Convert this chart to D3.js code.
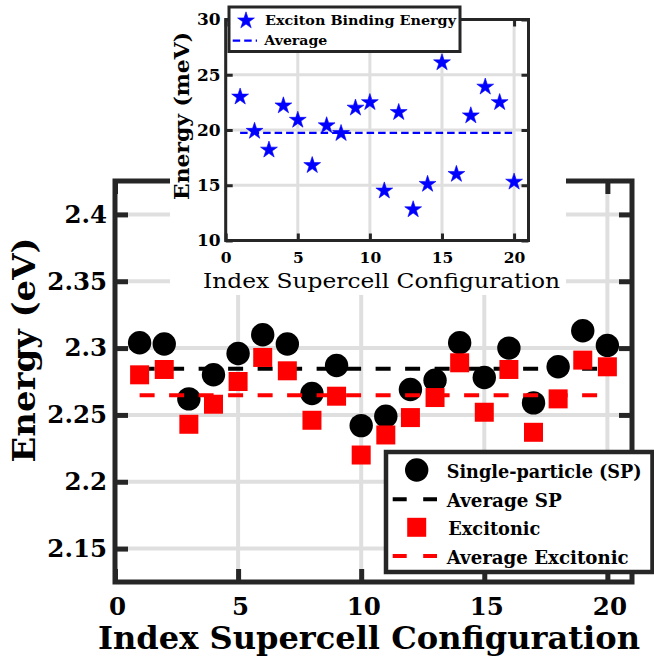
<!DOCTYPE html>
<html>
<head>
<meta charset="utf-8">
<script src="https://cdn.jsdelivr.net/npm/d3@7"></script>
<style>
  body { margin: 0; background: #fff; }
  svg { display: block; }
</style>
</head>
<body>
<script>
// Supercell configuration indices
const configIndex = [1, 2, 3, 4, 5, 6, 7, 8, 9, 10, 11, 12, 13, 14, 15, 16, 17, 18, 19, 20];

// Single-particle gap energies (eV)
const spEnergy = [2.304, 2.303, 2.262, 2.280, 2.296, 2.310, 2.303, 2.266, 2.287, 2.242,
                  2.249, 2.269, 2.276, 2.304, 2.278, 2.300, 2.259, 2.286, 2.313, 2.302];

// Excitonic gap energies (eV)
const excEnergy = [2.280, 2.284, 2.243, 2.258, 2.275, 2.293, 2.283, 2.246, 2.264, 2.220,
                   2.235, 2.248, 2.263, 2.289, 2.252, 2.284, 2.237, 2.262, 2.291, 2.286];

// Exciton binding energies (meV)
const bindingEnergy = [23.0, 19.9, 18.2, 22.2, 20.9, 16.8, 20.4, 19.7, 22.0, 22.5,
                       14.5, 21.6, 12.8, 15.1, 26.1, 16.0, 21.3, 23.9, 22.5, 15.3];

// Tick values
const mainXTicks = [0, 5, 10, 15, 20];
const mainYTicks = [2.15, 2.2, 2.25, 2.3, 2.35, 2.4];
const insetXTicks = [0, 5, 10, 15, 20];
const insetYTicks = [10, 15, 20, 25, 30];

// Legend labels
const mainLegendLabels = ["Single-particle (SP)", "Average SP", "Excitonic", "Average Excitonic"];
const insetLegendLabels = ["Exciton Binding Energy", "Average"];

const AXIS = "#262626";
const GRID = "#dfdfdf";
const SERIF = "'DejaVu Serif', 'Liberation Serif', serif";

const svg = d3.select("body").append("svg").attr("width", 654).attr("height", 656);

// ---------- main axes ----------
const x = d3.scaleLinear().domain([0, 21]).range([115, 632]);
const y = d3.scaleLinear().domain([2.125, 2.425]).range([582, 181]);

const main = svg.append("g");

// grid
main.append("g").selectAll("line").data(mainXTicks).join("line")
  .attr("x1", d => x(d)).attr("x2", d => x(d))
  .attr("y1", y.range()[0]).attr("y2", y.range()[1])
  .attr("stroke", GRID).attr("stroke-width", 4);
main.append("g").selectAll("line").data(mainYTicks).join("line")
  .attr("x1", x.range()[0]).attr("x2", x.range()[1])
  .attr("y1", d => y(d)).attr("y2", d => y(d))
  .attr("stroke", GRID).attr("stroke-width", 4);

const circleSym = d3.symbol(d3.symbolCircle, 430);
const squareSym = d3.symbol(d3.symbolSquare, 361);
const avgLine = d3.line().x(d => x(d[0])).y(d => y(d[1]));

const spMean = d3.mean(spEnergy);
const excMean = d3.mean(excEnergy);
const firstIdx = configIndex[0], lastIdx = configIndex[configIndex.length - 1];

// single-particle points
main.append("g").selectAll("path").data(configIndex).join("path")
  .attr("d", circleSym)
  .attr("transform", (d, i) => `translate(${x(d)},${y(spEnergy[i])})`)
  .attr("fill", "#000");

// average SP
main.append("path")
  .attr("d", avgLine([[firstIdx, spMean], [lastIdx, spMean]]))
  .attr("stroke", "#000").attr("stroke-width", 4).attr("fill", "none")
  .attr("stroke-dasharray", "15,14.5");

// excitonic points
main.append("g").selectAll("path").data(configIndex).join("path")
  .attr("d", squareSym)
  .attr("transform", (d, i) => `translate(${x(d)},${y(excEnergy[i])})`)
  .attr("fill", "#ff0000");

// average excitonic
main.append("path")
  .attr("d", avgLine([[firstIdx, excMean], [lastIdx, excMean]]))
  .attr("stroke", "#ff0000").attr("stroke-width", 4).attr("fill", "none")
  .attr("stroke-dasharray", "15,14.5");

// axes with inward ticks
function styleAxis(g, width) {
  g.select(".domain").remove();
  g.selectAll(".tick line").attr("stroke", AXIS).attr("stroke-width", width);
}
const tickFont = (sel, size) => sel
  .attr("font-family", SERIF).attr("font-weight", "bold")
  .attr("font-size", size).attr("fill", "#000");

const gL = main.append("g").attr("transform", `translate(${x(0)},0)`)
  .call(d3.axisLeft(y).tickValues(mainYTicks).tickSizeInner(-13).tickSizeOuter(0)
    .tickPadding(8).tickFormat(d => String(d)));
styleAxis(gL, 5);
gL.selectAll(".tick text").call(tickFont, 24.5);

const gR = main.append("g").attr("transform", `translate(${x(21)},0)`)
  .call(d3.axisRight(y).tickValues(mainYTicks).tickSizeInner(-13).tickSizeOuter(0).tickFormat(""));
styleAxis(gR, 5);

const gB = main.append("g").attr("transform", `translate(0,${y(2.125)})`)
  .call(d3.axisBottom(x).tickValues(mainXTicks).tickSizeInner(-13).tickSizeOuter(0)
    .tickFormat(d => String(d)));
styleAxis(gB, 5);
gB.selectAll(".tick text").call(tickFont, 24.5)
  .attr("y", 33).attr("dy", null).attr("dx", 2);

const gT = main.append("g").attr("transform", `translate(0,${y(2.425)})`)
  .call(d3.axisTop(x).tickValues(mainXTicks).tickSizeInner(-13).tickSizeOuter(0).tickFormat(""));
styleAxis(gT, 5);

main.append("rect")
  .attr("x", x(0)).attr("y", y(2.425))
  .attr("width", x(21) - x(0)).attr("height", y(2.125) - y(2.425))
  .attr("fill", "none").attr("stroke", AXIS).attr("stroke-width", 5);

// axis titles
main.append("text")
  .attr("x", 369).attr("y", 649).attr("text-anchor", "middle")
  .attr("font-family", SERIF).attr("font-weight", "bold").attr("font-size", 31)
  .attr("textLength", 542).attr("lengthAdjust", "spacingAndGlyphs")
  .text("Index Supercell Configuration");
main.append("text")
  .attr("transform", "translate(35,350) rotate(-90)").attr("text-anchor", "middle")
  .attr("font-family", SERIF).attr("font-weight", "bold").attr("font-size", 31)
  .attr("textLength", 225).attr("lengthAdjust", "spacingAndGlyphs")
  .text("Energy (eV)");

// main legend
const leg = svg.append("g");
leg.append("rect").attr("x", 386).attr("y", 452).attr("width", 266.5).attr("height", 120)
  .attr("fill", "#fff").attr("stroke", AXIS).attr("stroke-width", 4.5);
const legText = (tx, ty, label, len) => leg.append("text")
  .attr("x", tx).attr("y", ty)
  .attr("font-family", SERIF).attr("font-weight", "bold").attr("font-size", 18)
  .attr("textLength", len).attr("lengthAdjust", "spacingAndGlyphs").text(label);
leg.append("path").attr("d", circleSym).attr("transform", "translate(416.7,470)").attr("fill", "#000");
legText(446.7, 478.3, mainLegendLabels[0], 195);
leg.append("line").attr("x1", 392.7).attr("x2", 437).attr("y1", 499.3).attr("y2", 499.3)
  .attr("stroke", "#000").attr("stroke-width", 4).attr("stroke-dasharray", "14,16.5");
legText(446.7, 506.7, mainLegendLabels[1], 115);
leg.append("path").attr("d", squareSym).attr("transform", "translate(416.7,527.3)").attr("fill", "#ff0000");
legText(448.3, 535, mainLegendLabels[2], 92);
leg.append("line").attr("x1", 392.7).attr("x2", 437).attr("y1", 556).attr("y2", 556)
  .attr("stroke", "#ff0000").attr("stroke-width", 4).attr("stroke-dasharray", "14,16.5");
legText(446.7, 564, mainLegendLabels[3], 182);

// ---------- inset ----------
svg.append("rect").attr("x", 170).attr("y", 0).attr("width", 396).attr("height", 295).attr("fill", "#fff");

const ix = d3.scaleLinear().domain([0, 21]).range([225.7, 528.5]);
const iy = d3.scaleLinear().domain([10, 30]).range([240.5, 19.5]);
const inset = svg.append("g");

inset.append("g").selectAll("line").data(insetXTicks).join("line")
  .attr("x1", d => ix(d)).attr("x2", d => ix(d))
  .attr("y1", iy.range()[0]).attr("y2", iy.range()[1])
  .attr("stroke", GRID).attr("stroke-width", 3);
inset.append("g").selectAll("line").data(insetYTicks).join("line")
  .attr("x1", ix.range()[0]).attr("x2", ix.range()[1])
  .attr("y1", d => iy(d)).attr("y2", d => iy(d))
  .attr("stroke", GRID).attr("stroke-width", 3);

const bindMean = d3.mean(bindingEnergy);
const iLine = d3.line().x(d => ix(d[0])).y(d => iy(d[1]));
const starSym = d3.symbol(d3.symbolStar, 88);

inset.append("g").selectAll("path").data(configIndex).join("path")
  .attr("d", starSym)
  .attr("transform", (d, i) => `translate(${ix(d)},${iy(bindingEnergy[i])})`)
  .attr("fill", "#0000ff").attr("stroke", "#0000ff").attr("stroke-width", 0.6);

inset.append("path")
  .attr("d", iLine([[firstIdx, bindMean], [lastIdx, bindMean]]))
  .attr("stroke", "#0000ff").attr("stroke-width", 2.2).attr("fill", "none")
  .attr("stroke-dasharray", "7.5,4");

const iL = inset.append("g").attr("transform", `translate(${ix(0)},0)`)
  .call(d3.axisLeft(iy).tickValues(insetYTicks).tickSizeInner(-7).tickSizeOuter(0)
    .tickPadding(5).tickFormat(d => String(d)));
styleAxis(iL, 3);
iL.selectAll(".tick text").call(tickFont, 17);

const iR = inset.append("g").attr("transform", `translate(${ix(21)},0)`)
  .call(d3.axisRight(iy).tickValues(insetYTicks).tickSizeInner(-7).tickSizeOuter(0).tickFormat(""));
styleAxis(iR, 3);

const iB = inset.append("g").attr("transform", `translate(0,${iy(10)})`)
  .call(d3.axisBottom(ix).tickValues(insetXTicks).tickSizeInner(-7).tickSizeOuter(0)
    .tickFormat(d => String(d)));
styleAxis(iB, 3);
iB.selectAll(".tick text").call(tickFont, 15.5)
  .attr("y", 22.5).attr("dy", null);

const iT = inset.append("g").attr("transform", `translate(0,${iy(30)})`)
  .call(d3.axisTop(ix).tickValues(insetXTicks).tickSizeInner(-7).tickSizeOuter(0).tickFormat(""));
styleAxis(iT, 3);

inset.append("rect")
  .attr("x", ix(0)).attr("y", iy(30))
  .attr("width", ix(21) - ix(0)).attr("height", iy(10) - iy(30))
  .attr("fill", "none").attr("stroke", AXIS).attr("stroke-width", 3);

inset.append("text")
  .attr("x", 381.5).attr("y", 288).attr("text-anchor", "middle")
  .attr("font-family", SERIF).attr("font-size", 20.5)
  .attr("textLength", 357).attr("lengthAdjust", "spacingAndGlyphs")
  .text("Index Supercell Configuration");
inset.append("text")
  .attr("transform", "translate(189,116) rotate(-90)").attr("text-anchor", "middle")
  .attr("font-family", SERIF).attr("font-weight", "bold").attr("font-size", 21)
  .attr("textLength", 168).attr("lengthAdjust", "spacingAndGlyphs")
  .text("Energy (meV)");

// inset legend
const ileg = svg.append("g");
ileg.append("rect").attr("x", 229).attr("y", 7).attr("width", 231).attr("height", 44.5)
  .attr("fill", "#fff").attr("stroke", AXIS).attr("stroke-width", 3);
ileg.append("path").attr("d", starSym).attr("transform", "translate(246,20.7)")
  .attr("fill", "#0000ff").attr("stroke", "#0000ff").attr("stroke-width", 0.6);
ileg.append("text").attr("x", 265).attr("y", 25)
  .attr("font-family", SERIF).attr("font-weight", "bold").attr("font-size", 13.7)
  .attr("textLength", 191).attr("lengthAdjust", "spacingAndGlyphs").text(insetLegendLabels[0]);
ileg.append("line").attr("x1", 232.7).attr("x2", 257).attr("y1", 40.7).attr("y2", 40.7)
  .attr("stroke", "#0000ff").attr("stroke-width", 2.2).attr("stroke-dasharray", "7.5,4");
ileg.append("text").attr("x", 264.3).attr("y", 45)
  .attr("font-family", SERIF).attr("font-weight", "bold").attr("font-size", 13.7)
  .attr("textLength", 63).attr("lengthAdjust", "spacingAndGlyphs").text(insetLegendLabels[1]);
</script>
</body>
</html>
